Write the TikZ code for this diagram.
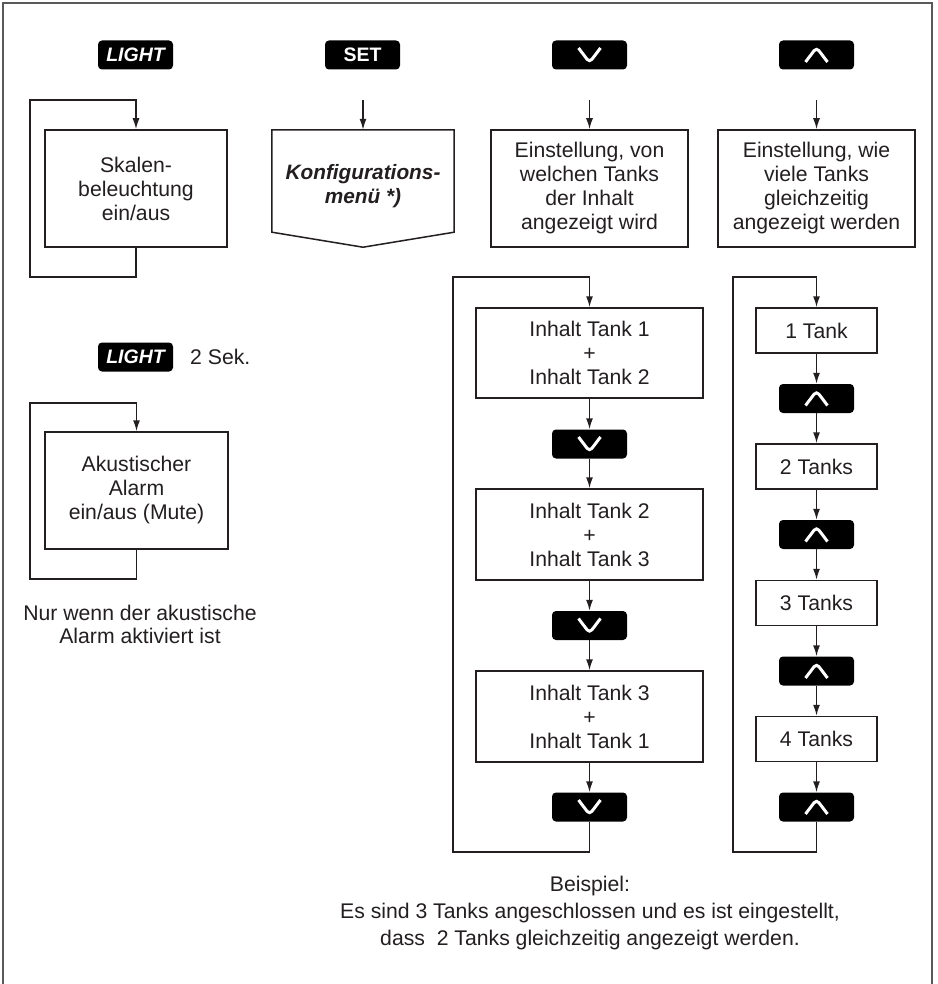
\documentclass[tikz,border=0pt]{standalone}
\usepackage{fontspec}
\setmainfont{Liberation Sans}
\usetikzlibrary{arrows.meta}
\definecolor{ink}{HTML}{231F20}
\begin{document}
\begin{tikzpicture}[x=1pt,y=-1pt,
  box/.style={draw=ink, line width=1.5pt, inner sep=0pt, align=center, text=ink,
    font=\fontsize{21.2}{24}\selectfont},
  btn/.style={fill=black, rounded corners=4pt, minimum width=75pt, minimum height=29pt,
    inner sep=0pt, text=white, font=\fontsize{19.5}{20}\selectfont\bfseries\itshape},
  dnbtn/.style={btn, path picture={\draw[white,line width=3pt]
    ([xshift=-11pt,yshift=7pt]path picture bounding box.center) --
    ([yshift=-7.5pt]path picture bounding box.center) --
    ([xshift=11pt,yshift=7pt]path picture bounding box.center);}},
  upbtn/.style={btn, path picture={\draw[white,line width=3pt]
    ([xshift=-11pt,yshift=-7pt]path picture bounding box.center) --
    ([yshift=7.5pt]path picture bounding box.center) --
    ([xshift=11pt,yshift=-7pt]path picture bounding box.center);}},
  arr/.style={draw=ink, line width=1.5pt, -{Latex[length=11pt,width=7pt]}},
  plain/.style={draw=ink, line width=1.5pt},
  txt/.style={text=ink, align=center, inner sep=0pt, font=\fontsize{21.2}{24}\selectfont}]
\useasboundingbox (0,0) rectangle (937,984);
\fill[white] (0,0) rectangle (937,984);
\draw[line width=2pt, draw=black!65] (3,984) -- (3,3) -- (932,3) -- (932,984);

% top buttons
\node[btn] (light1) at (135.5,55) {LIGHT};
\node[btn, font=\fontsize{19.5}{20}\selectfont\bfseries] (set) at (362.5,55) {SET};
\node[dnbtn] (dn0) at (589.5,55) {};
\node[upbtn] (up0) at (816.5,55) {};

% top boxes
\node[box, minimum width=182pt, minimum height=117pt] (sk) at (136,188.5) {Skalen-\\beleuchtung\\ein/aus};
\node[minimum width=182pt, minimum height=117pt, inner sep=0pt] (konf) at (363,188.5) {};
\node[txt, font=\fontsize{20.8}{24.5}\selectfont\bfseries\itshape] (konft) at (363,186) {Konfigurations-\\menü *)};
\draw[plain, line join=miter] (konf.north west) -- (konf.north east) -- ([yshift=15pt]konf.south east)
  -- (konf.south) -- ([yshift=15pt]konf.south west) -- cycle;
\node[box, minimum width=197pt, minimum height=117pt] (ev) at (589.5,188.5) {Einstellung, von\\welchen Tanks\\der Inhalt\\angezeigt wird};
\node[box, minimum width=197pt, minimum height=117pt] (ew) at (816.5,188.5) {Einstellung, wie\\viele Tanks\\gleichzeitig\\angezeigt werden};

\coordinate (c1a) at (30,277);
\coordinate (c1b) at (136,100);
\coordinate (c2) at (363,100);
\coordinate (c3) at (589.5,100);
\coordinate (c4) at (816.5,100);
\draw[arr] (sk.south) |- (c1a) |- (c1b) -- (sk.north);
\draw[arr] (c2) -- (konf.north);
\draw[arr] (c3) -- (ev.north);
\draw[arr] (c4) -- (ew.north);

% second left group
\node[btn] (light2) at (135.5,357) {LIGHT};
\node[txt, anchor=west] (sek) at (190,357) {2 Sek.};
\node[box, minimum width=183pt, minimum height=117pt] (ak) at (136.5,490.5) {Akustischer\\Alarm\\ein/aus (Mute)};
\coordinate (a1) at (30,579);
\coordinate (a2) at (136.5,403);
\draw[arr] (ak.south) |- (a1) |- (a2) -- (ak.north);
\node[txt, font=\fontsize{21.2}{23}\selectfont] (nur) at (140,624) {Nur wenn der akustische\\Alarm aktiviert ist};

% middle column chain
\node[box, minimum width=227pt, minimum height=90pt] (i1) at (589.5,353) {Inhalt Tank 1\\+\\Inhalt Tank 2};
\node[dnbtn] (d1) at (589.5,444) {};
\node[box, minimum width=227pt, minimum height=91pt] (i2) at (589.5,534.5) {Inhalt Tank 2\\+\\Inhalt Tank 3};
\node[dnbtn] (d2) at (589.5,625.5) {};
\node[box, minimum width=227pt, minimum height=91pt] (i3) at (589.5,716.5) {Inhalt Tank 3\\+\\Inhalt Tank 1};
\node[dnbtn] (d3) at (589.5,807) {};
\draw[arr] (i1) -- (d1);
\draw[arr] (d1) -- (i2);
\draw[arr] (i2) -- (d2);
\draw[arr] (d2) -- (i3);
\draw[arr] (i3) -- (d3);
\coordinate (m1) at (453,852);
\coordinate (m2) at (589.5,277);
\draw[arr] (d3.south) |- (m1) |- (m2) -- (i1.north);

% right column chain
\node[box, minimum width=121pt, minimum height=45pt] (t1) at (816.5,330.5) {1 Tank};
\node[upbtn] (u1) at (816.5,398.5) {};
\node[box, minimum width=121pt, minimum height=45pt] (t2) at (816.5,466.5) {2 Tanks};
\node[upbtn] (u2) at (816.5,534.5) {};
\node[box, minimum width=121pt, minimum height=45pt] (t3) at (816.5,603) {3 Tanks};
\node[upbtn] (u3) at (816.5,671) {};
\node[box, minimum width=121pt, minimum height=45pt] (t4) at (816.5,739) {4 Tanks};
\node[upbtn] (u4) at (816.5,807) {};
\draw[arr] (t1) -- (u1);
\draw[arr] (u1) -- (t2);
\draw[arr] (t2) -- (u2);
\draw[arr] (u2) -- (t3);
\draw[arr] (t3) -- (u3);
\draw[arr] (u3) -- (t4);
\draw[arr] (t4) -- (u4);
\coordinate (r1) at (733,852);
\coordinate (r2) at (816.5,277);
\draw[arr] (u4.south) |- (r1) |- (r2) -- (t1.north);

% bottom note
\node[txt, font=\fontsize{21.2}{27}\selectfont] (note) at (590,913) {Beispiel:\\Es sind 3 Tanks angeschlossen und es ist eingestellt,\\dass~ 2 Tanks gleichzeitig angezeigt werden.};
\end{tikzpicture}
\end{document}
